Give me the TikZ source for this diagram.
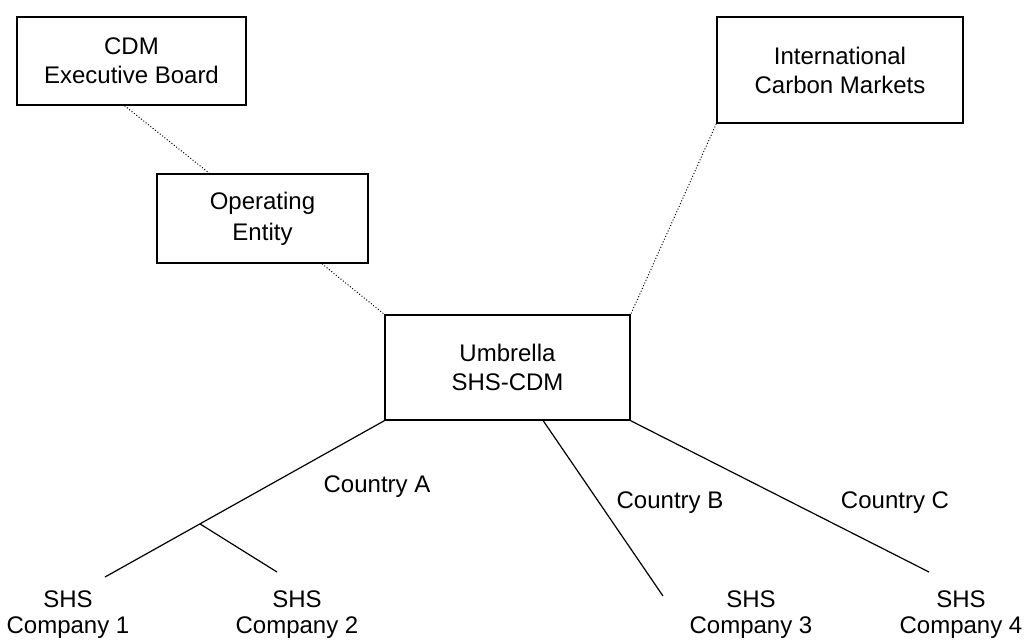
\documentclass[tikz,border=0pt]{standalone}
\usepackage{fontspec}
\setmainfont{Liberation Sans}
\usetikzlibrary{calc}

\begin{document}
\begin{tikzpicture}[
        x=0.5pt, y=-0.5pt,
        every node/.style={font=\fontsize{12}{13}\selectfont, align=center},
        box/.style={rectangle, draw, line width=0.75pt, inner sep=0pt, font=\fontsize{12}{14.5}\selectfont},
        link/.style={densely dotted, line width=0.5pt},
        branch/.style={line width=0.6pt}
    ]
        \useasboundingbox (0,0) rectangle (1030,639);
        \node[box, minimum width=114.5pt, minimum height=44pt] (cdm) at (131.5,61) {CDM\\Executive Board};
        \node[box, minimum width=105.5pt, minimum height=44.5pt] (entity) at (262.5,218.5) {Operating\\[1pt]Entity};
        \node[box, minimum width=123pt, minimum height=53pt] (markets) at (840,70) {International\\Carbon Markets};
        \node[box, minimum width=122.5pt, minimum height=52.5pt] (umbrella) at (507.5,367.5) {Umbrella\\SHS-CDM};

        \node (comp1) at (68,615) {SHS\\Company 1};
        \node (comp2) at (297,615) {SHS\\Company 2};
        \node (comp3) at (751,615) {SHS\\Company 3};
        \node (comp4) at (961,615) {SHS\\Company 4};
        \node (ctryA) at (377,487) {Country A};
        \node (ctryB) at (670,503) {Country B};
        \node (ctryC) at (895,503) {Country C};

        \coordinate (end1) at (105,577);
        \coordinate (end2) at (277,572);
        \coordinate (end3) at (663,596);
        \coordinate (end4) at (929,572);

        \draw[link] ($(cdm.south west)!0.47!(cdm.south east)$) -- ($(entity.north west)!0.25!(entity.north east)$);
        \draw[link] ($(entity.south west)!0.78!(entity.south east)$) -- (umbrella.north west);
        \draw[link] (markets.south west) -- (umbrella.north east);

        \draw[branch] (umbrella.south west) -- coordinate[pos=0.66] (fork) (end1);
        \draw[branch] (fork) -- (end2);
        \draw[branch] ($(umbrella.south west)!0.645!(umbrella.south east)$) -- (end3);
        \draw[branch] (umbrella.south east) -- (end4);
    \end{tikzpicture}
\end{document}
